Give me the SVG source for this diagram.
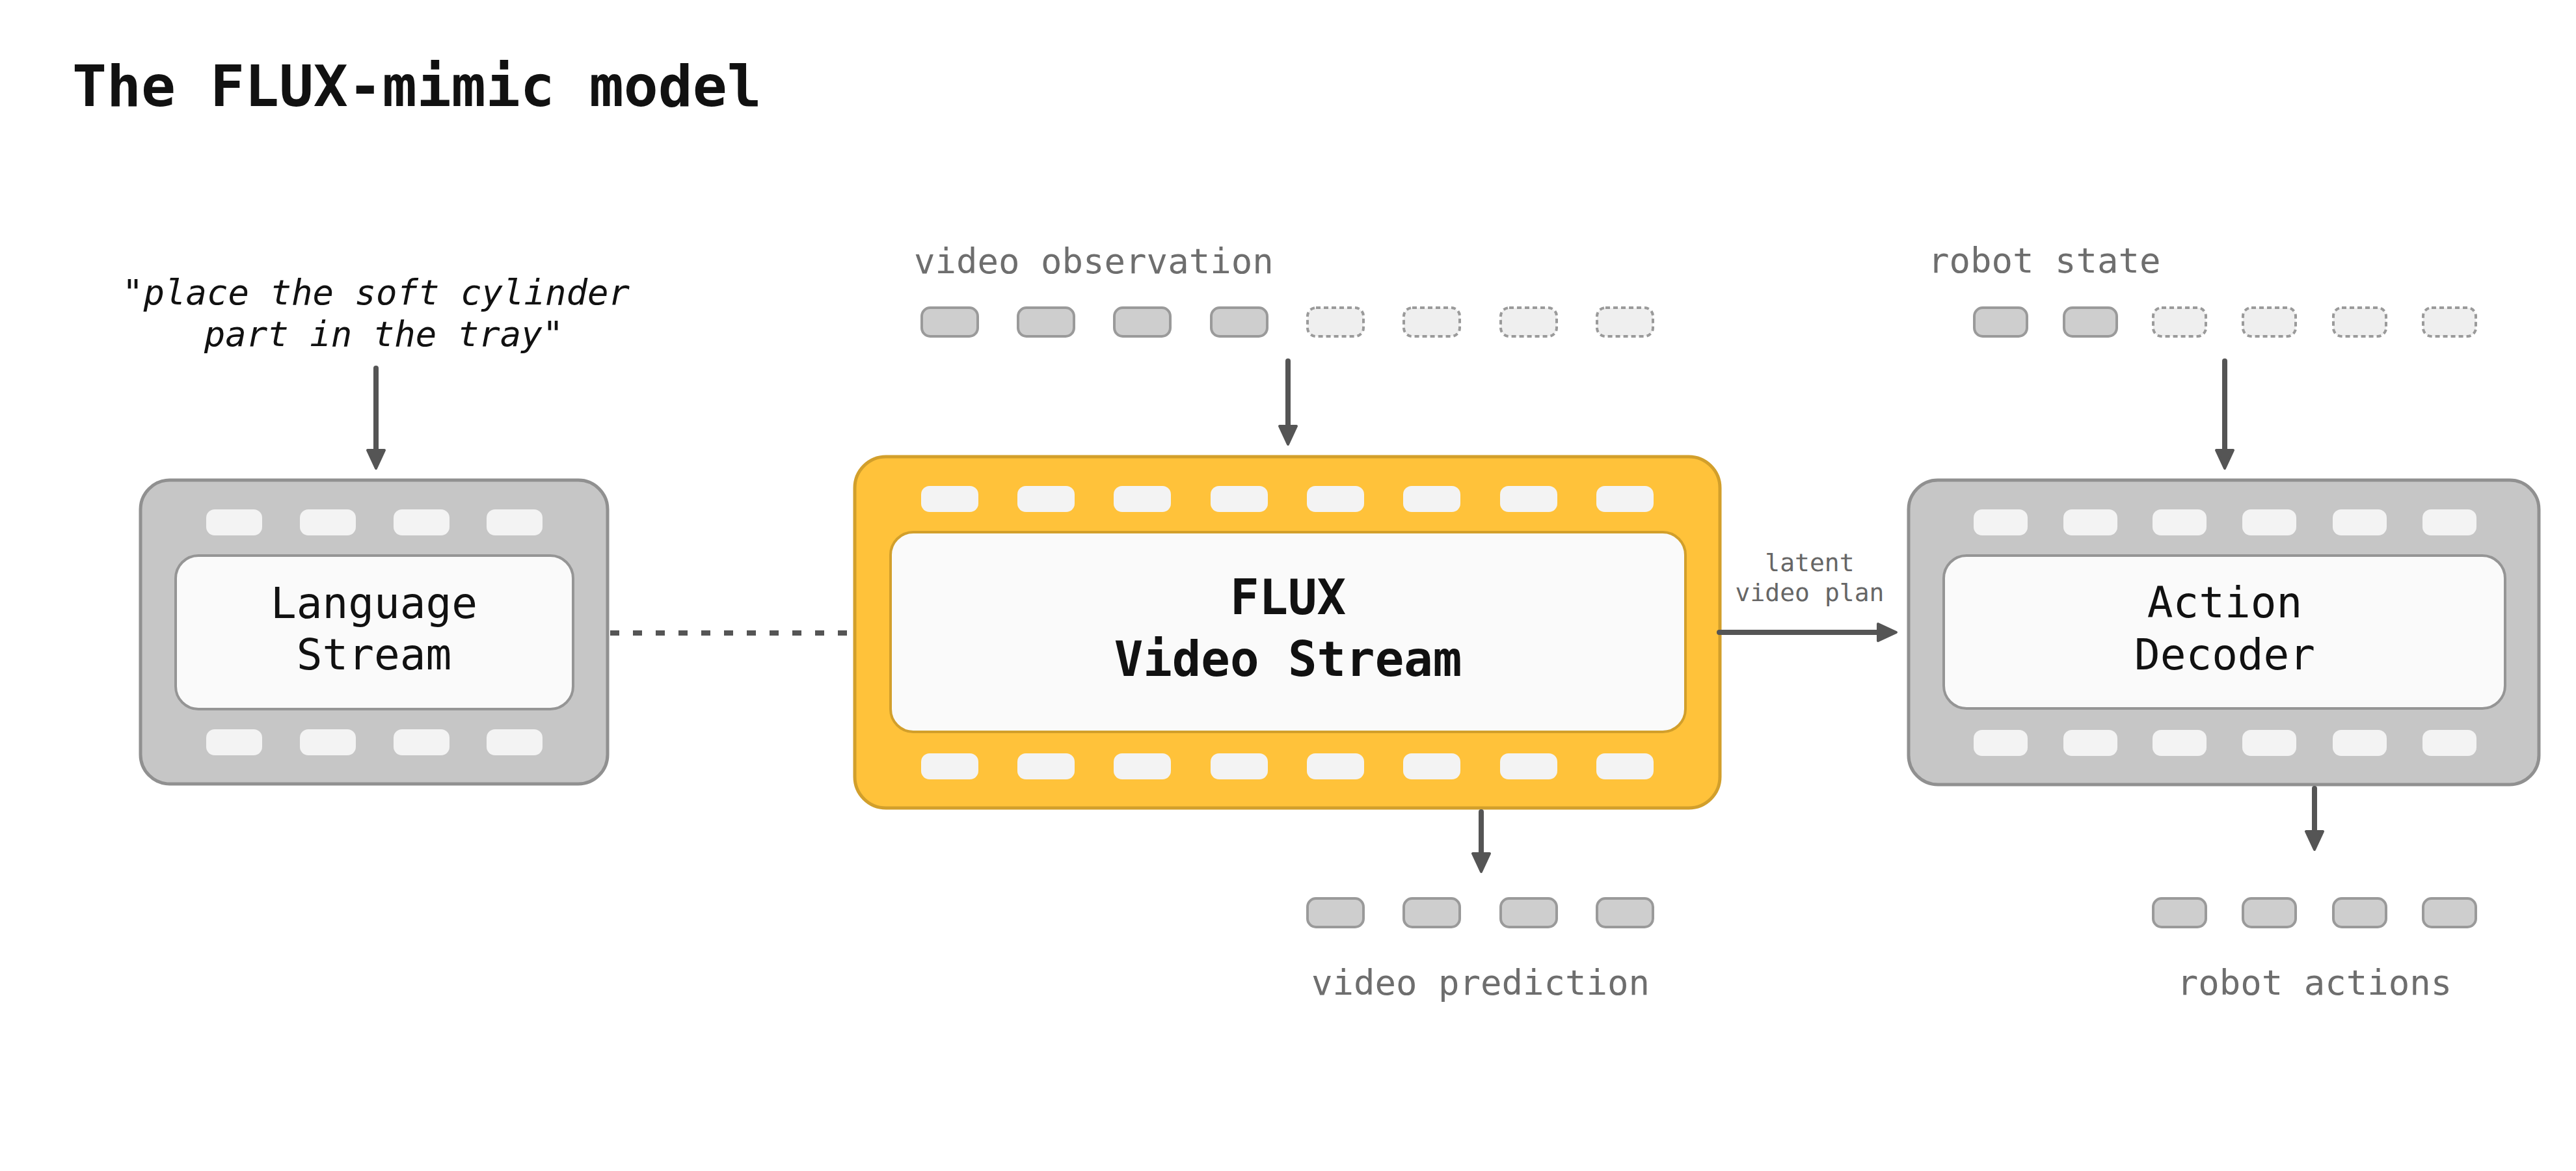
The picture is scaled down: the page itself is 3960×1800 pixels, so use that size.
<svg xmlns="http://www.w3.org/2000/svg" width="3960" height="1800" viewBox="0 0 3960 1800">
<style>
text{font-family:"DejaVu Sans Mono","Liberation Mono",monospace}
.title{font-size:88px;font-weight:bold;fill:#111}
.quote{font-size:54px;fill:#111;text-anchor:middle}
.lbl{font-size:54px;fill:#6e6e6e}
.lblc{font-size:54px;fill:#6e6e6e;text-anchor:middle}
.small{font-size:38px;fill:#666;text-anchor:middle}
.name{font-size:66px;fill:#111;text-anchor:middle}
.bold{font-size:74px;fill:#111;font-weight:bold;text-anchor:middle}
.gbox{fill:#c6c6c6;stroke:#909090;stroke-width:5}
.ybox{fill:#ffc23a;stroke:#d29f2b;stroke-width:5}
.ginner{fill:#fafafa;stroke:#959595;stroke-width:4}
.yinner{fill:#fafafa;stroke:#d29f2b;stroke-width:4}
.hole{fill:#f3f3f3}
.tok{fill:#cecece;stroke:#9a9a9a;stroke-width:4}
.tokd{fill:#efefef;stroke:#9a9a9a;stroke-width:4;stroke-dasharray:7 5}
.arr{stroke:#555;stroke-width:8;stroke-linecap:round;fill:none;marker-end:url(#ah)}
.dot{stroke:#555;stroke-width:8;stroke-dasharray:14 21;fill:none}
</style>
<defs>
<marker id="ah" markerUnits="userSpaceOnUse" markerWidth="44" markerHeight="44" viewBox="-6 -22 44 44" refX="2" refY="0" orient="auto">
<path d="M0,-13 L28,0 L0,13 z" fill="#555" stroke="#555" stroke-width="4" stroke-linejoin="round"/>
</marker>
</defs>
<rect width="3960" height="1800" fill="#fff"/>
<text class="title" x="111" y="163">The FLUX-mimic model</text>

<g id="instruction">
<text class="quote" x="578" y="468">"<tspan font-style="italic">place the soft cylinder</tspan></text>
<text class="quote" x="590" y="532"><tspan font-style="italic">part in the tray</tspan>"</text>
</g>

<g id="video-observation">
<text class="lbl" x="1405" y="420">video observation</text>
<rect class="tok" x="1417" y="473" width="86" height="44" rx="13"/>
<rect class="tok" x="1565" y="473" width="86" height="44" rx="13"/>
<rect class="tok" x="1713" y="473" width="86" height="44" rx="13"/>
<rect class="tok" x="1862" y="473" width="86" height="44" rx="13"/>
<rect class="tokd" x="2010" y="473" width="86" height="44" rx="13"/>
<rect class="tokd" x="2158" y="473" width="86" height="44" rx="13"/>
<rect class="tokd" x="2307" y="473" width="86" height="44" rx="13"/>
<rect class="tokd" x="2455" y="473" width="86" height="44" rx="13"/>
</g>

<g id="robot-state">
<text class="lbl" x="2964" y="419">robot state</text>
<rect class="tok" x="3035" y="473" width="81" height="44" rx="13"/>
<rect class="tok" x="3173" y="473" width="81" height="44" rx="13"/>
<rect class="tokd" x="3310" y="473" width="81" height="44" rx="13"/>
<rect class="tokd" x="3448" y="473" width="81" height="44" rx="13"/>
<rect class="tokd" x="3587" y="473" width="81" height="44" rx="13"/>
<rect class="tokd" x="3725" y="473" width="81" height="44" rx="13"/>
</g>

<g id="language-stream">
<rect class="gbox" x="216" y="738" width="718" height="467" rx="45"/>
<rect class="hole" x="317" y="783" width="86" height="40" rx="13"/>
<rect class="hole" x="461" y="783" width="86" height="40" rx="13"/>
<rect class="hole" x="605" y="783" width="86" height="40" rx="13"/>
<rect class="hole" x="748" y="783" width="86" height="40" rx="13"/>
<rect class="ginner" x="270" y="854" width="611" height="236" rx="35"/>
<rect class="hole" x="317" y="1121" width="86" height="40" rx="13"/>
<rect class="hole" x="461" y="1121" width="86" height="40" rx="13"/>
<rect class="hole" x="605" y="1121" width="86" height="40" rx="13"/>
<rect class="hole" x="748" y="1121" width="86" height="40" rx="13"/>
<text class="name" x="575" y="950">Language</text>
<text class="name" x="575" y="1029">Stream</text>
</g>

<g id="flux-video-stream">
<rect class="ybox" x="1314" y="702" width="1330" height="540" rx="48"/>
<rect class="hole" x="1416" y="747" width="88" height="40" rx="13"/>
<rect class="hole" x="1564" y="747" width="88" height="40" rx="13"/>
<rect class="hole" x="1712" y="747" width="88" height="40" rx="13"/>
<rect class="hole" x="1861" y="747" width="88" height="40" rx="13"/>
<rect class="hole" x="2009" y="747" width="88" height="40" rx="13"/>
<rect class="hole" x="2157" y="747" width="88" height="40" rx="13"/>
<rect class="hole" x="2306" y="747" width="88" height="40" rx="13"/>
<rect class="hole" x="2454" y="747" width="88" height="40" rx="13"/>
<rect class="yinner" x="1369" y="818" width="1222" height="307" rx="35"/>
<rect class="hole" x="1416" y="1158" width="88" height="40" rx="13"/>
<rect class="hole" x="1564" y="1158" width="88" height="40" rx="13"/>
<rect class="hole" x="1712" y="1158" width="88" height="40" rx="13"/>
<rect class="hole" x="1861" y="1158" width="88" height="40" rx="13"/>
<rect class="hole" x="2009" y="1158" width="88" height="40" rx="13"/>
<rect class="hole" x="2157" y="1158" width="88" height="40" rx="13"/>
<rect class="hole" x="2306" y="1158" width="88" height="40" rx="13"/>
<rect class="hole" x="2454" y="1158" width="88" height="40" rx="13"/>
<text class="bold" x="1980" y="944">FLUX</text>
<text class="bold" x="1980" y="1039">Video Stream</text>
</g>

<g id="action-decoder">
<rect class="gbox" x="2934" y="738" width="969" height="468" rx="45"/>
<rect class="hole" x="3034" y="783" width="83" height="40" rx="13"/>
<rect class="hole" x="3172" y="783" width="83" height="40" rx="13"/>
<rect class="hole" x="3309" y="783" width="83" height="40" rx="13"/>
<rect class="hole" x="3447" y="783" width="83" height="40" rx="13"/>
<rect class="hole" x="3586" y="783" width="83" height="40" rx="13"/>
<rect class="hole" x="3724" y="783" width="83" height="40" rx="13"/>
<rect class="ginner" x="2988" y="854" width="863" height="235" rx="35"/>
<rect class="hole" x="3034" y="1122" width="83" height="40" rx="13"/>
<rect class="hole" x="3172" y="1122" width="83" height="40" rx="13"/>
<rect class="hole" x="3309" y="1122" width="83" height="40" rx="13"/>
<rect class="hole" x="3447" y="1122" width="83" height="40" rx="13"/>
<rect class="hole" x="3586" y="1122" width="83" height="40" rx="13"/>
<rect class="hole" x="3724" y="1122" width="83" height="40" rx="13"/>
<text class="name" x="3420" y="949">Action</text>
<text class="name" x="3420" y="1029">Decoder</text>
</g>

<g id="video-prediction">
<rect class="tok" x="2010" y="1381" width="86" height="44" rx="13"/>
<rect class="tok" x="2158" y="1381" width="86" height="44" rx="13"/>
<rect class="tok" x="2307" y="1381" width="86" height="44" rx="13"/>
<rect class="tok" x="2455" y="1381" width="86" height="44" rx="13"/>
<text class="lblc" x="2276" y="1529">video prediction</text>
</g>

<g id="robot-actions">
<rect class="tok" x="3310" y="1381" width="81" height="44" rx="13"/>
<rect class="tok" x="3448" y="1381" width="81" height="44" rx="13"/>
<rect class="tok" x="3587" y="1381" width="81" height="44" rx="13"/>
<rect class="tok" x="3725" y="1381" width="81" height="44" rx="13"/>
<text class="lblc" x="3558" y="1529">robot actions</text>
</g>

<g id="connectors">
<line class="arr" x1="578" y1="566" x2="578" y2="694"/>
<line class="arr" x1="1980" y1="555" x2="1980" y2="657"/>
<line class="arr" x1="3420" y1="555" x2="3420" y2="694"/>
<line class="dot" x1="938" y1="973" x2="1310" y2="973"/>
<line class="arr" x1="2643" y1="972" x2="2889" y2="972"/>
<text class="small" x="2782" y="878">latent</text>
<text class="small" x="2782" y="924">video plan</text>
<line class="arr" x1="2277" y1="1248" x2="2277" y2="1314"/>
<line class="arr" x1="3558" y1="1212" x2="3558" y2="1280"/>
</g>
</svg>
